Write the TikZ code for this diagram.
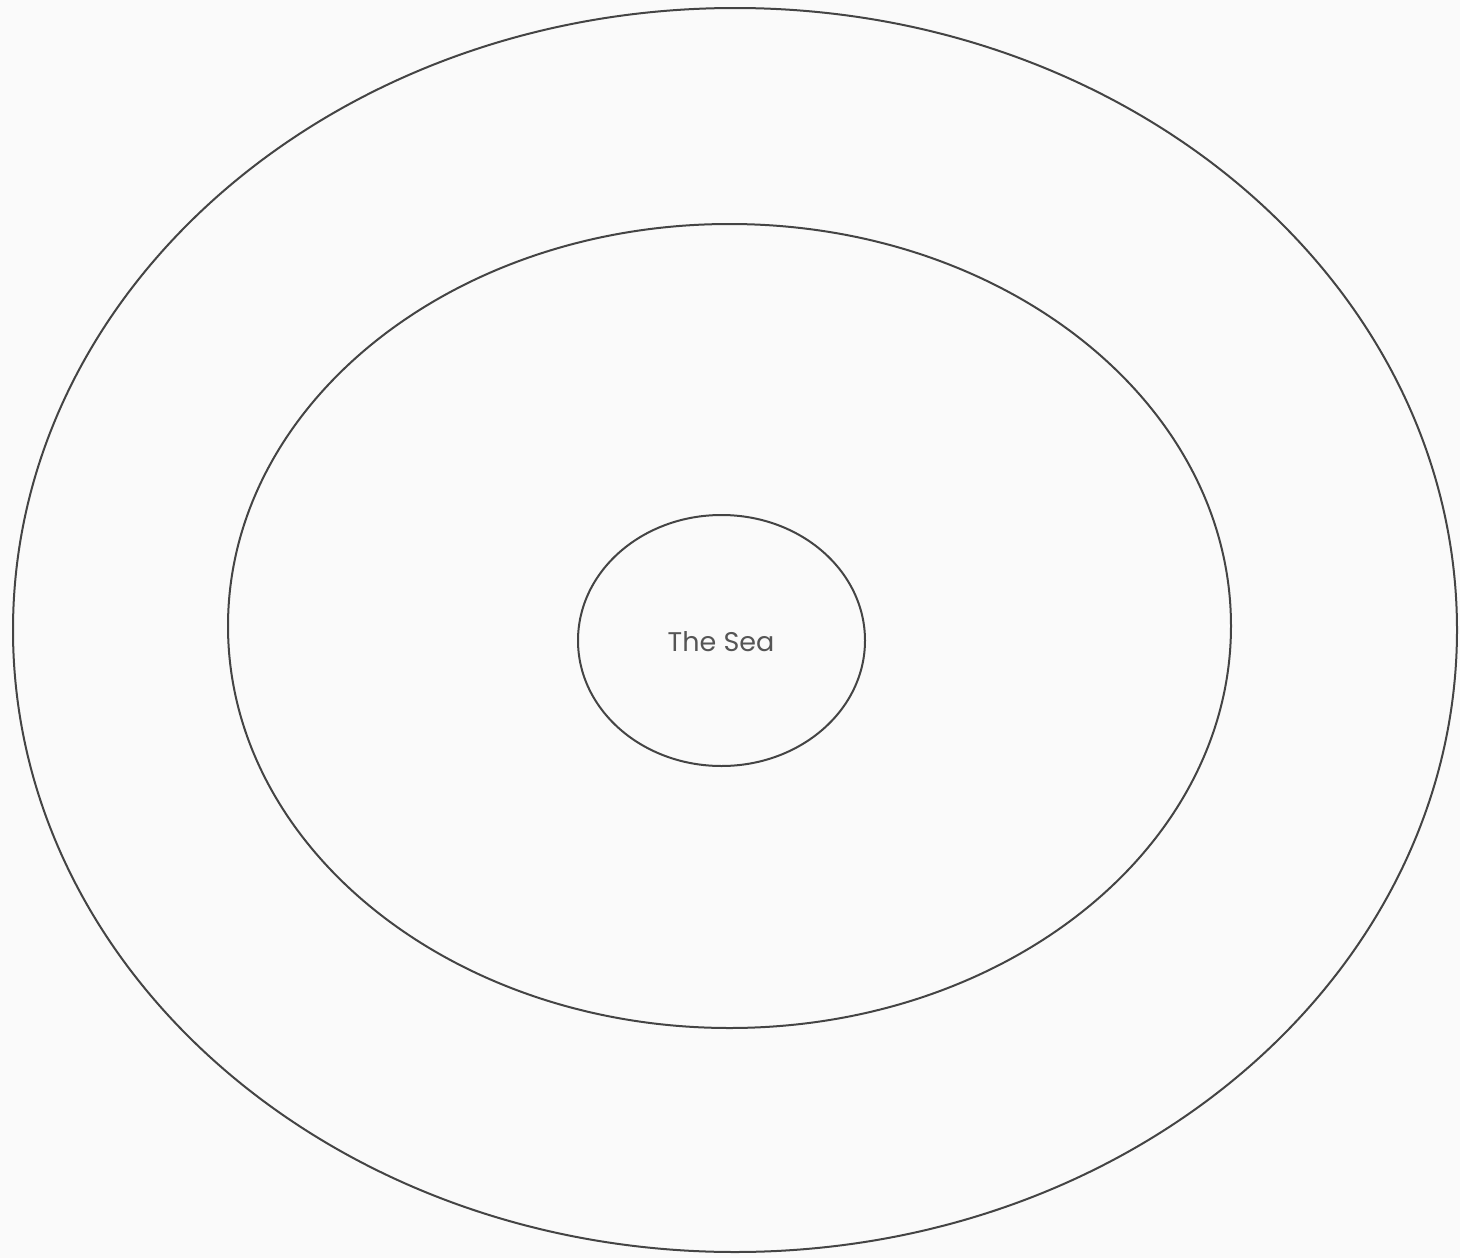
\documentclass[tikz,border=0pt]{standalone}
\usepackage{fontspec}
\newfontfamily\labelfont{Poppins}
\definecolor{bg}{HTML}{FAFAFA}
\definecolor{ln}{HTML}{444444}
\definecolor{tx}{HTML}{555555}
\begin{document}
\begin{tikzpicture}[x=1pt,y=-1pt,
  ring/.style={draw=ln,line width=2pt}]
\fill[bg] (0,0) rectangle (1460,1258);
\useasboundingbox (0,0) rectangle (1460,1258);
\draw[ring] (735,630) ellipse [x radius=722,y radius=622];
\draw[ring] (729.5,626) ellipse [x radius=501.5,y radius=402];
\draw[ring] (721.5,640.5) ellipse [x radius=143.5,y radius=125.5];
\node[text=tx,font=\labelfont\fontsize{27}{32}\selectfont] (sea) at (721,642) {The Sea};
\end{tikzpicture}
\end{document}
